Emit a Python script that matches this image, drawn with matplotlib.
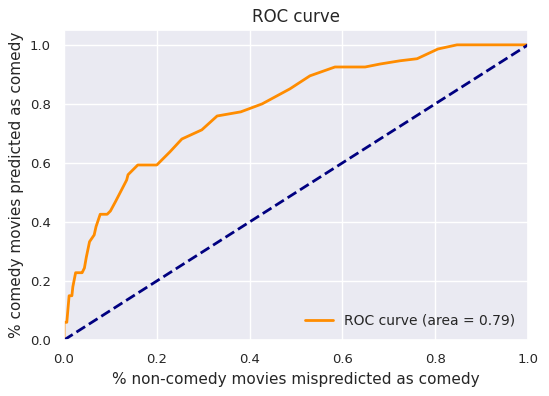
import numpy as np
import matplotlib
matplotlib.use('Agg')
import matplotlib.pyplot as plt
import seaborn as sns

sns.set_theme()

# ROC curve points
fpr = [0.0, 0.0, 0.006, 0.011, 0.017, 0.019, 0.025, 0.036, 0.039, 0.044, 0.048,
       0.055, 0.065, 0.069, 0.078, 0.093, 0.1, 0.111, 0.135, 0.138, 0.159,
       0.185, 0.2, 0.228, 0.254, 0.297, 0.33, 0.381, 0.427, 0.487, 0.53,
       0.584, 0.649, 0.681, 0.724, 0.761, 0.806, 0.847, 1.0]
tpr = [0.0, 0.06, 0.06, 0.15, 0.15, 0.18, 0.228, 0.228, 0.228, 0.244, 0.28,
       0.333, 0.356, 0.384, 0.426, 0.426, 0.437, 0.469, 0.542, 0.56, 0.593,
       0.593, 0.593, 0.637, 0.681, 0.712, 0.759, 0.773, 0.8, 0.851, 0.895,
       0.925, 0.925, 0.935, 0.946, 0.953, 0.986, 1.0, 1.0]
roc_auc = 0.79

fig = plt.figure(figsize=(5.49, 3.96), dpi=100)
ax = fig.add_axes([0.1166, 0.1414, 0.8451, 0.7826])
ax.plot(fpr, tpr, color='darkorange', lw=2, label='ROC curve (area = %0.2f)' % roc_auc)
ax.plot([0, 1], [0, 1], color='navy', lw=2, linestyle='--')
ax.set_xlim([0.0, 1.0])
ax.set_ylim([0.0, 1.05])
ax.set_xlabel('% non-comedy movies mispredicted as comedy', fontsize=11)
ax.set_ylabel('% comedy movies predicted as comedy', fontsize=11)
ax.set_title('ROC curve', fontsize=12)
ax.tick_params(labelsize=9.5)
ax.legend(loc='lower right', frameon=False, fontsize=10)
fig.savefig('out.png')
